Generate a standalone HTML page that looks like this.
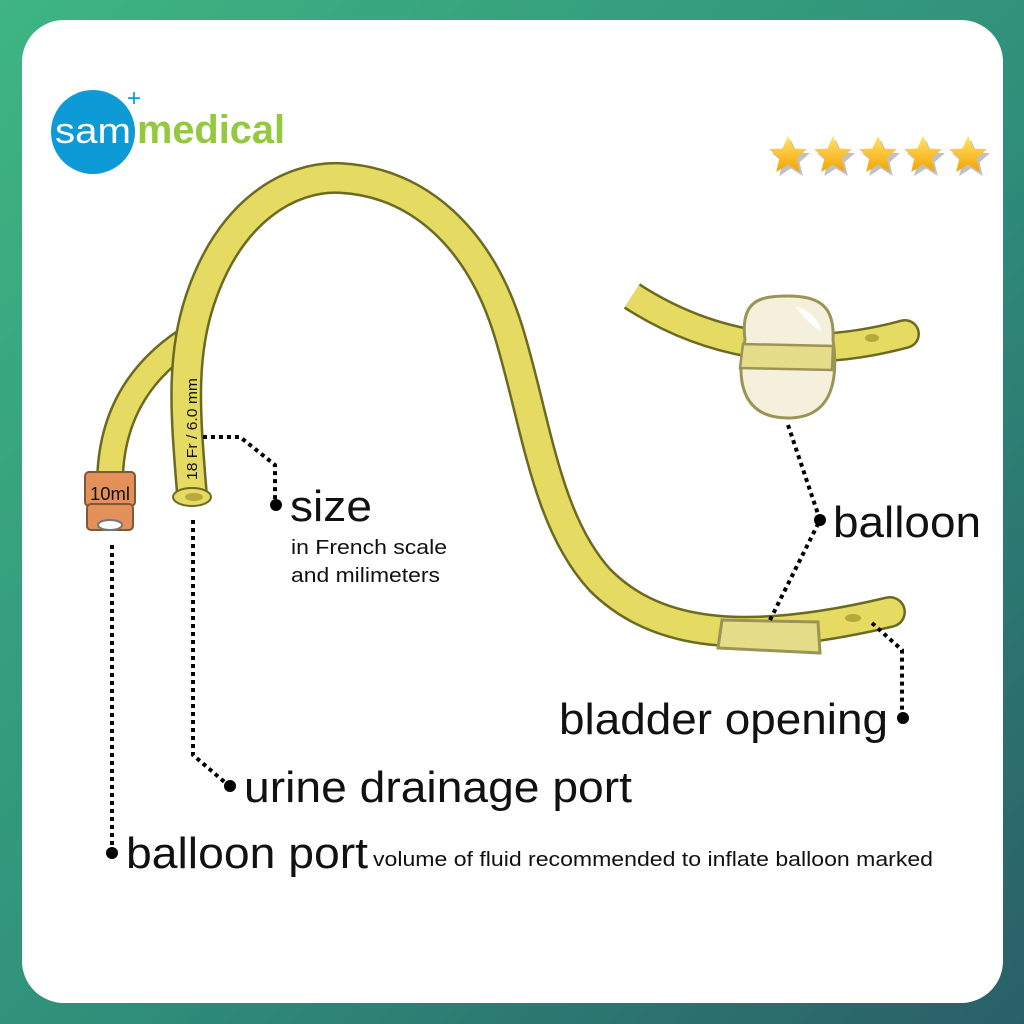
<!DOCTYPE html>
<html><head><meta charset="utf-8"><style>
html,body{margin:0;padding:0;width:1024px;height:1024px;overflow:hidden}
body{background:linear-gradient(135deg,#3fb582 0%,#2f8f7a 55%,#2a5f68 100%)}
.card{position:absolute;left:22px;top:20px;width:981px;height:983px;background:#fff;border-radius:42px}
svg{position:absolute;left:0;top:0}
text{font-family:"Liberation Sans","DejaVu Sans",sans-serif;fill:#111}
</style></head><body>
<div class="card"></div>
<svg width="1024" height="1024" viewBox="0 0 1024 1024">
<defs>
<linearGradient id="sg" x1="0" y1="0" x2="0" y2="1"><stop offset="0" stop-color="#ffe36a"/><stop offset="1" stop-color="#f5a300"/></linearGradient>
<polygon id="star" points="0,-19 5.6,-6.5 19,-5.9 8.6,3.3 11.8,17 0,9.5 -11.8,17 -8.6,3.3 -19,-5.9 -5.6,-6.5"/>
</defs>
<circle cx="93" cy="132" r="42" fill="#0d9ad6"/>
<text x="55" y="143" font-size="36" textLength="76" lengthAdjust="spacingAndGlyphs" style="fill:#fff">sam</text>
<text x="137" y="143" font-size="40" font-weight="bold" textLength="148" lengthAdjust="spacingAndGlyphs" style="fill:#94c93d">medical</text>
<text x="127" y="106" font-size="24" style="fill:#0d9ad6">+</text>
<g fill="#999" opacity="0.6">
<use href="#star" x="791" y="159"/><use href="#star" x="836" y="159"/><use href="#star" x="881" y="159"/><use href="#star" x="926" y="159"/><use href="#star" x="971" y="159"/></g>
<g fill="url(#sg)">
<use href="#star" x="788" y="155"/><use href="#star" x="833" y="155"/><use href="#star" x="878" y="155"/><use href="#star" x="923" y="155"/><use href="#star" x="968" y="155"/></g>
<path d="M195,335 C145,365 112,410 110,478" fill="none" stroke="#6b6a22" stroke-width="28"/>
<path d="M195,335 C145,365 112,410 110,478" fill="none" stroke="#e5da62" stroke-width="23"/>
<path d="M192,495 C186,420 180,360 200,300 C230,210 290,176 340,178 C420,182 480,240 508,330 C536,420 545,520 600,580 C650,630 730,650 890,612" fill="none" stroke="#6b6a22" stroke-width="32"/>
<circle cx="890" cy="612" r="16" fill="#6b6a22"/>
<path d="M192,495 C186,420 180,360 200,300 C230,210 290,176 340,178 C420,182 480,240 508,330 C536,420 545,520 600,580 C650,630 730,650 890,612" fill="none" stroke="#e5da62" stroke-width="27"/>
<circle cx="890" cy="612" r="13.5" fill="#e5da62"/>
<ellipse cx="192" cy="497" rx="19" ry="9" fill="#e5da62" stroke="#6b6a22" stroke-width="2"/>
<ellipse cx="194" cy="497" rx="9" ry="4" fill="#b8a93e"/>
<text transform="translate(197,480) rotate(-90)" font-size="15" textLength="102" lengthAdjust="spacingAndGlyphs">18 Fr / 6.0 mm</text>
<path d="M722,620 L818,622 L820,653 L718,648 Z" fill="#e6dd8a" stroke="#9a9456" stroke-width="3"/>
<ellipse cx="853" cy="618" rx="8" ry="4" fill="#b5a83c"/>
<rect x="85" y="472" width="50" height="34" rx="4" fill="#e3905a" stroke="#7a5a3a" stroke-width="2"/>
<rect x="87" y="504" width="46" height="26" rx="4" fill="#e3905a" stroke="#7a5a3a" stroke-width="2"/>
<ellipse cx="110" cy="525" rx="12" ry="5" fill="#fff" stroke="#777" stroke-width="2"/>
<text x="90" y="500" font-size="18" textLength="40" lengthAdjust="spacingAndGlyphs">10ml</text>
<path d="M632,296 C700,340 790,365 905,334" fill="none" stroke="#6b6a22" stroke-width="30"/>
<circle cx="905" cy="334" r="15" fill="#6b6a22"/>
<path d="M632,296 C700,340 790,365 905,334" fill="none" stroke="#e5da62" stroke-width="25"/>
<circle cx="905" cy="334" r="12.5" fill="#e5da62"/>
<ellipse cx="872" cy="338" rx="7" ry="4" fill="#b5a83c"/>
<path d="M745,340 C740,300 760,296 788,296 C818,296 835,305 833,340 C838,375 835,418 788,418 C742,418 735,380 745,340 Z" fill="#f4f0dc" stroke="#9a9456" stroke-width="3"/>
<path d="M743,344 L833,346 L832,370 L740,368 Z" fill="#e6dd8a" stroke="#9a9456" stroke-width="2.5"/>
<path d="M795,306 C808,310 818,318 822,332 C812,326 802,316 795,306Z" fill="#fff"/>
<g fill="none" stroke="#000" stroke-width="4" stroke-dasharray="4,4">
<path d="M203,437 L240,437 L275,465 L275,500"/>
<path d="M193,520 L193,755 L228,785"/>
<path d="M112,545 L112,850"/>
<path d="M788,425 L820,520 L770,620"/>
<path d="M872,623 L902,650 L902,715"/>
</g>
<g fill="#000">
<circle cx="276" cy="505" r="6"/><circle cx="230" cy="786" r="6"/><circle cx="112" cy="853" r="6"/><circle cx="820" cy="520" r="6"/><circle cx="903" cy="718" r="6"/>
</g>
<text x="290" y="521" font-size="44" textLength="82" lengthAdjust="spacingAndGlyphs">size</text>
<text x="291" y="554" font-size="20" textLength="156" lengthAdjust="spacingAndGlyphs">in French scale</text>
<text x="291" y="582" font-size="20" textLength="149" lengthAdjust="spacingAndGlyphs">and milimeters</text>
<text x="833" y="537" font-size="44" textLength="148" lengthAdjust="spacingAndGlyphs">balloon</text>
<text x="559" y="734" font-size="44" textLength="329" lengthAdjust="spacingAndGlyphs">bladder opening</text>
<text x="244" y="802" font-size="44" textLength="388" lengthAdjust="spacingAndGlyphs">urine drainage port</text>
<text x="126" y="868" font-size="44" textLength="242" lengthAdjust="spacingAndGlyphs">balloon port</text>
<text x="373" y="866" font-size="20" textLength="560" lengthAdjust="spacingAndGlyphs">volume of fluid recommended to inflate balloon marked</text>
</svg>
</body></html>
